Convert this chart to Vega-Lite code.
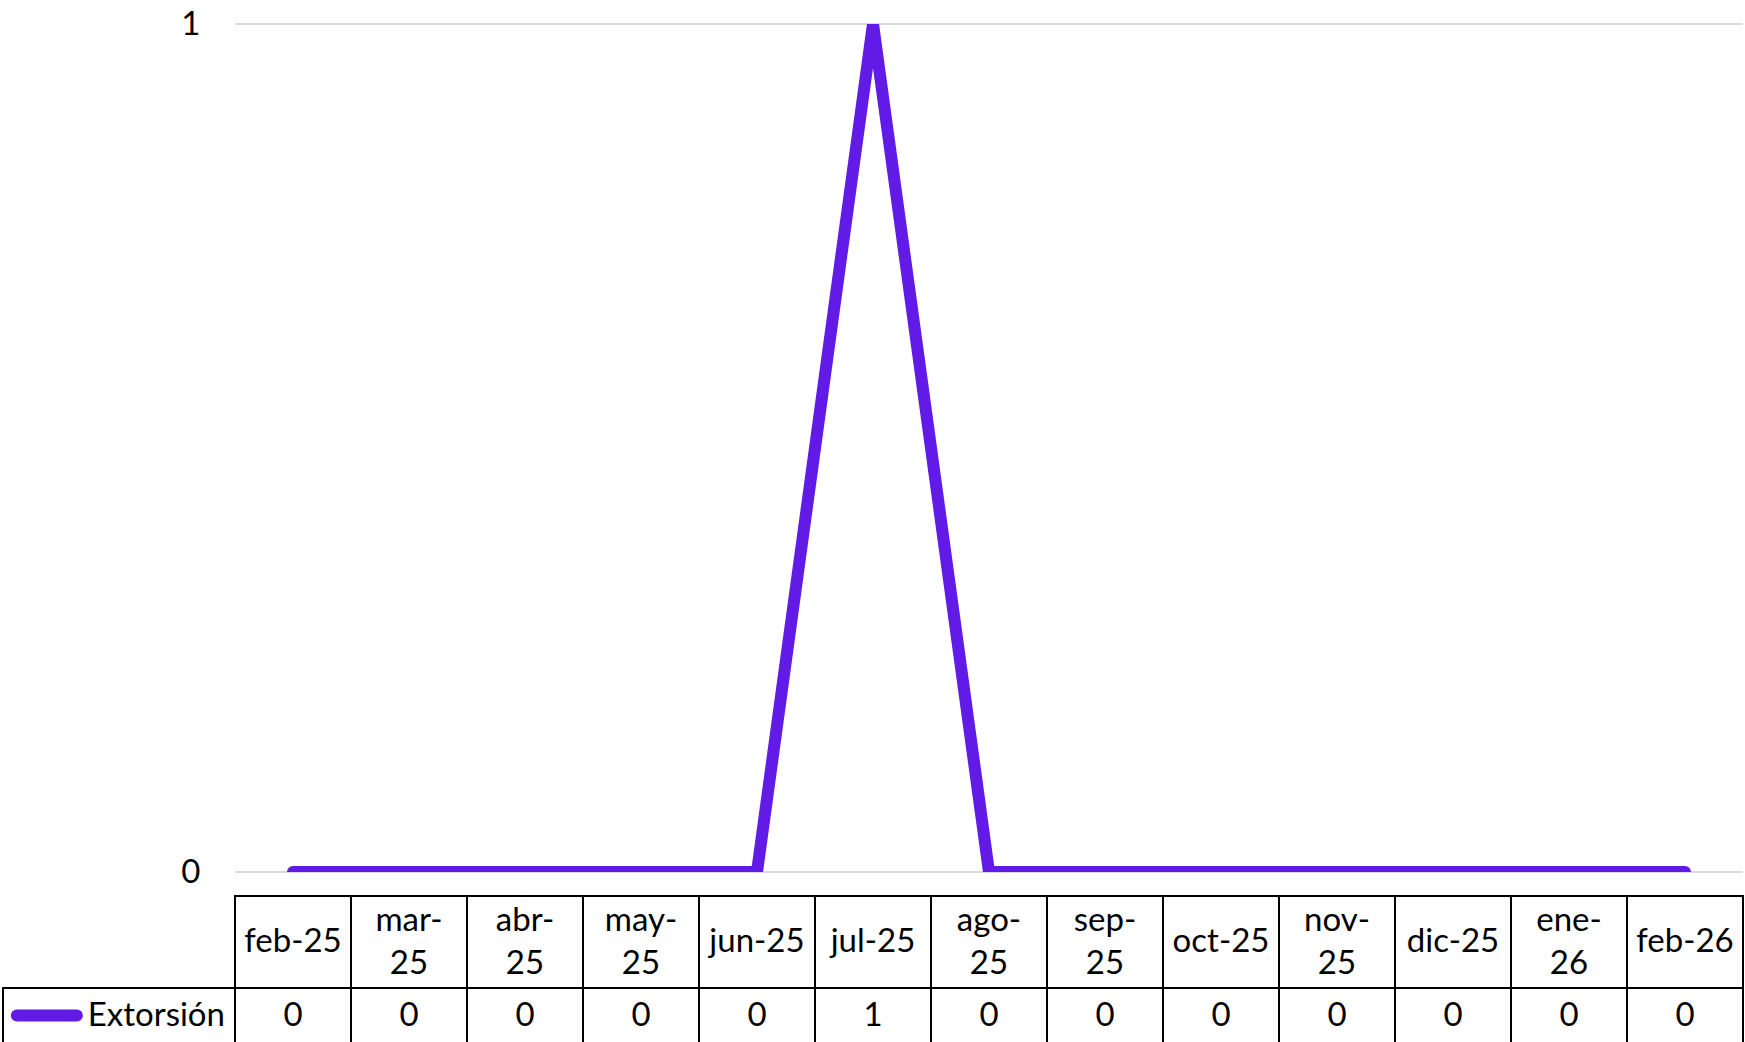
{
  "$schema": "https://vega.github.io/schema/vega-lite/v6.json",
  "background": "white",
  "padding": {"left": 2, "top": 8, "right": 0, "bottom": 0},
  "config": {
    "view": {"stroke": null},
    "font": "Lato",
    "text": {"font": "Lato", "fontSize": 33, "color": "#000000"}
  },
  "datasets": {
    "datos": [
      {"mes": "feb-25", "etiqueta": "feb-25", "serie": "Extorsión", "valor": 0},
      {"mes": "mar-25", "etiqueta": "mar-\n25", "serie": "Extorsión", "valor": 0},
      {"mes": "abr-25", "etiqueta": "abr-\n25", "serie": "Extorsión", "valor": 0},
      {"mes": "may-25", "etiqueta": "may-\n25", "serie": "Extorsión", "valor": 0},
      {"mes": "jun-25", "etiqueta": "jun-25", "serie": "Extorsión", "valor": 0},
      {"mes": "jul-25", "etiqueta": "jul-25", "serie": "Extorsión", "valor": 1},
      {"mes": "ago-25", "etiqueta": "ago-\n25", "serie": "Extorsión", "valor": 0},
      {"mes": "sep-25", "etiqueta": "sep-\n25", "serie": "Extorsión", "valor": 0},
      {"mes": "oct-25", "etiqueta": "oct-25", "serie": "Extorsión", "valor": 0},
      {"mes": "nov-25", "etiqueta": "nov-\n25", "serie": "Extorsión", "valor": 0},
      {"mes": "dic-25", "etiqueta": "dic-25", "serie": "Extorsión", "valor": 0},
      {"mes": "ene-26", "etiqueta": "ene-\n26", "serie": "Extorsión", "valor": 0},
      {"mes": "feb-26", "etiqueta": "feb-26", "serie": "Extorsión", "valor": 0}
    ],
    "niveles": [{"nivel": 0}, {"nivel": 1}],
    "series": [{"serie": "Extorsión"}]
  },
  "bounds": "flush",
  "spacing": 24,
  "vconcat": [
    {
      "width": 1740,
      "height": 848,
      "layer": [
        {
          "data": {"name": "niveles"},
          "mark": {"type": "rule", "color": "#d9d9d9", "strokeWidth": 2},
          "encoding": {
            "y": {"field": "nivel", "type": "quantitative", "scale": {"domain": [0, 1], "nice": false},
              "axis": {"values": [0, 1], "format": "d", "grid": false, "domain": false, "ticks": false, "labelFont": "Lato", "labelFontSize": 33, "labelColor": "#000000", "labelPadding": 35, "offset": -232, "title": null, "labelOverlap": false}},
            "x": {"datum": "feb-25", "type": "ordinal", "bandPosition": 0,
              "scale": {"type": "band", "domain": ["_l1", "_l2", "feb-25", "mar-25", "abr-25", "may-25", "jun-25", "jul-25", "ago-25", "sep-25", "oct-25", "nov-25", "dic-25", "ene-26", "feb-26"], "paddingInner": 0, "paddingOuter": 0},
              "axis": null},
            "x2": {"datum": "feb-26", "bandPosition": 1}
          }
        },
        {
          "data": {"name": "datos"},
          "mark": {"type": "line", "color": "#621AE6", "strokeWidth": 12, "strokeCap": "round", "strokeJoin": "miter", "clip": true},
          "encoding": {
            "x": {"field": "mes", "type": "ordinal", "sort": null,
              "scale": {"type": "band", "domain": ["_l1", "_l2", "feb-25", "mar-25", "abr-25", "may-25", "jun-25", "jul-25", "ago-25", "sep-25", "oct-25", "nov-25", "dic-25", "ene-26", "feb-26"], "paddingInner": 0, "paddingOuter": 0},
              "axis": null},
            "y": {"field": "valor", "type": "quantitative", "scale": {"domain": [0, 1], "nice": false},
              "axis": {"values": [0, 1], "format": "d", "grid": false, "domain": false, "ticks": false, "labelFont": "Lato", "labelFontSize": 33, "labelColor": "#000000", "labelPadding": 35, "offset": -232, "title": null, "labelOverlap": false}}
          }
        }
      ]
    },
    {
      "bounds": "flush",
      "spacing": 0,
      "vconcat": [
        {
          "width": 1740,
          "height": 92,
          "data": {"name": "datos"},
          "layer": [
            {
              "mark": {"type": "rect", "fill": "white", "stroke": "#000000", "strokeWidth": 2},
              "encoding": {
                "x": {"field": "mes", "type": "ordinal", "sort": null,
                  "scale": {"type": "band", "domain": ["_l1", "_l2", "feb-25", "mar-25", "abr-25", "may-25", "jun-25", "jul-25", "ago-25", "sep-25", "oct-25", "nov-25", "dic-25", "ene-26", "feb-26"], "paddingInner": 0, "paddingOuter": 0},
                  "axis": null}
              }
            },
            {
              "transform": [{"filter": "indexof(datum.etiqueta, '\\n') < 0"}],
              "mark": {"type": "text", "fontSize": 33, "baseline": "middle", "align": "center"},
              "encoding": {
                "x": {"field": "mes", "type": "ordinal", "sort": null,
                  "scale": {"type": "band", "domain": ["_l1", "_l2", "feb-25", "mar-25", "abr-25", "may-25", "jun-25", "jul-25", "ago-25", "sep-25", "oct-25", "nov-25", "dic-25", "ene-26", "feb-26"], "paddingInner": 0, "paddingOuter": 0},
                  "axis": null},
                "text": {"field": "etiqueta"}
              }
            },
            {
              "transform": [{"filter": "indexof(datum.etiqueta, '\\n') >= 0"}],
              "mark": {"type": "text", "fontSize": 33, "baseline": "middle", "align": "center", "lineBreak": "\n", "lineHeight": 43, "dy": -21.5},
              "encoding": {
                "x": {"field": "mes", "type": "ordinal", "sort": null,
                  "scale": {"type": "band", "domain": ["_l1", "_l2", "feb-25", "mar-25", "abr-25", "may-25", "jun-25", "jul-25", "ago-25", "sep-25", "oct-25", "nov-25", "dic-25", "ene-26", "feb-26"], "paddingInner": 0, "paddingOuter": 0},
                  "axis": null},
                "text": {"field": "etiqueta"}
              }
            }
          ]
        },
        {
          "width": 1740,
          "height": 55,
          "data": {"name": "datos"},
          "layer": [
            {
              "mark": {"type": "rect", "fill": "white", "stroke": "#000000", "strokeWidth": 2},
              "encoding": {
                "x": {"field": "mes", "type": "ordinal", "sort": null,
                  "scale": {"type": "band", "domain": ["_l1", "_l2", "feb-25", "mar-25", "abr-25", "may-25", "jun-25", "jul-25", "ago-25", "sep-25", "oct-25", "nov-25", "dic-25", "ene-26", "feb-26"], "paddingInner": 0, "paddingOuter": 0},
                  "axis": null}
              }
            },
            {
              "data": {"name": "series"},
              "mark": {"type": "rect", "fill": "white", "stroke": "#000000", "strokeWidth": 2},
              "encoding": {
                "x": {"datum": "_l1", "type": "ordinal", "bandPosition": 0,
                  "scale": {"type": "band", "domain": ["_l1", "_l2", "feb-25", "mar-25", "abr-25", "may-25", "jun-25", "jul-25", "ago-25", "sep-25", "oct-25", "nov-25", "dic-25", "ene-26", "feb-26"], "paddingInner": 0, "paddingOuter": 0},
                  "axis": null},
                "x2": {"datum": "_l2", "bandPosition": 1}
              }
            },
            {
              "data": {"name": "series"},
              "mark": {"type": "point", "shape": "stroke", "size": 3600, "strokeWidth": 12, "strokeCap": "round", "strokeJoin": "round", "color": "#621AE6", "filled": false, "opacity": 1},
              "encoding": {
                "x": {"datum": "_l1", "type": "ordinal", "bandPosition": 0.378,
                  "scale": {"type": "band", "domain": ["_l1", "_l2", "feb-25", "mar-25", "abr-25", "may-25", "jun-25", "jul-25", "ago-25", "sep-25", "oct-25", "nov-25", "dic-25", "ene-26", "feb-26"], "paddingInner": 0, "paddingOuter": 0},
                  "axis": null}
              }
            },
            {
              "data": {"name": "series"},
              "mark": {"type": "text", "fontSize": 33, "baseline": "middle", "align": "right", "dx": -10},
              "encoding": {
                "x": {"datum": "_l2", "type": "ordinal", "bandPosition": 1,
                  "scale": {"type": "band", "domain": ["_l1", "_l2", "feb-25", "mar-25", "abr-25", "may-25", "jun-25", "jul-25", "ago-25", "sep-25", "oct-25", "nov-25", "dic-25", "ene-26", "feb-26"], "paddingInner": 0, "paddingOuter": 0},
                  "axis": null},
                "text": {"field": "serie"}
              }
            },
            {
              "mark": {"type": "text", "fontSize": 33, "baseline": "middle", "align": "center"},
              "encoding": {
                "x": {"field": "mes", "type": "ordinal", "sort": null,
                  "scale": {"type": "band", "domain": ["_l1", "_l2", "feb-25", "mar-25", "abr-25", "may-25", "jun-25", "jul-25", "ago-25", "sep-25", "oct-25", "nov-25", "dic-25", "ene-26", "feb-26"], "paddingInner": 0, "paddingOuter": 0},
                  "axis": null},
                "text": {"field": "valor", "type": "quantitative", "format": "d"}
              }
            }
          ]
        }
      ]
    }
  ]
}
